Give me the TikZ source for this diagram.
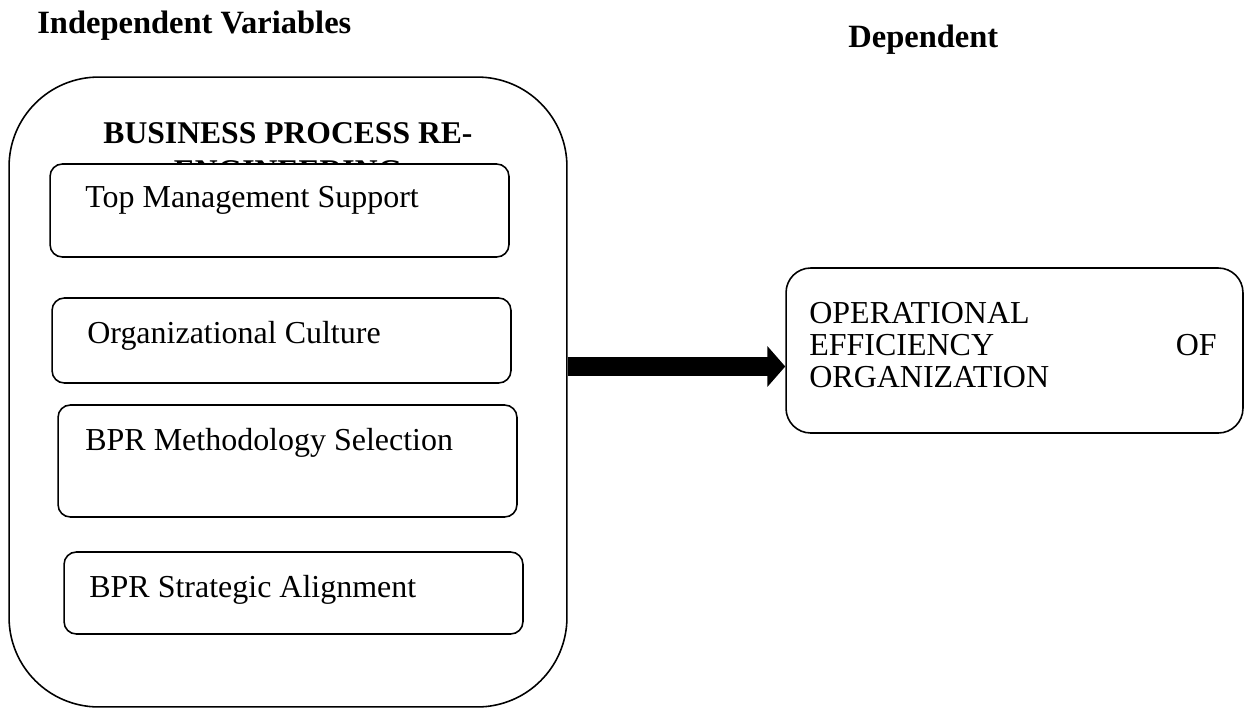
\documentclass[tikz,border=0pt]{standalone}
\usepackage{fontspec}
\setmainfont{Liberation Serif}
\usetikzlibrary{arrows.meta}

\begin{document}
\begin{tikzpicture}[x=0.02cm, y=-0.02cm,
    every node/.style={inner sep=0pt},
    rbox/.style={draw, line width=0.9pt, fill=white, rounded corners=7pt},
    factor/.style={rbox, minimum width=9.18cm},
    txt/.style={anchor=base west, font=\fontsize{18.2}{21}\selectfont},
    heading/.style={anchor=base west, font=\fontsize{18.5}{22}\selectfont\bfseries},
    fatarrow/.style={line width=10.8pt, -{Triangle[length=10.2pt, width=22.7pt]}}]
  \useasboundingbox (0,0) rectangle (1244,708);
  % headings
  \node[heading] (indep) at (37,33) {Independent Variables};
  \node[heading] (dep) at (848,47) {Dependent};
  % independent side
  \node[rbox, rounded corners=51pt, minimum width=11.16cm, minimum height=12.6cm] (bpr) at (288,392) {};
  \node[anchor=base, font=\fontsize{18}{21}\selectfont\bfseries] (bprtitle) at (288,143) {BUSINESS PROCESS RE-};
  \node[anchor=base, font=\fontsize{18}{21}\selectfont\bfseries] (bprtitlenext) at (288,181.5) {ENGINEERING};
  \node[factor, minimum height=1.86cm] (topbox) at (279.5,210.5) {};
  \node[factor, minimum height=1.70cm] (culturebox) at (281.5,340.5) {};
  \node[factor, minimum height=2.24cm] (methodbox) at (287.5,461) {};
  \node[factor, minimum height=1.64cm] (strategybox) at (293.5,593) {};
  \node[txt] (toptext) at (85,207) {Top Management Support};
  \node[txt] (culturetext) at (87,343) {Organizational Culture};
  \node[txt] (methodtext) at (85,450) {BPR Methodology Selection};
  \node[txt] (strategytext) at (89,597) {BPR Strategic Alignment};
  % dependent side
  \node[rbox, rounded corners=14pt, minimum width=9.14cm, minimum height=3.3cm] (effbox) at (1014.5,350.5) {};
  \node[txt] (opline) at (809,323) {OPERATIONAL};
  \node[txt] (effline) at (809,355) {EFFICIENCY};
  \node[txt, anchor=base east] (ofword) at (1217,355) {OF};
  \node[txt] (orgline) at (809,387) {ORGANIZATION};
  \coordinate (mid) at (0,366.5);
  \draw[fatarrow] (bpr.east |- mid) -- (effbox.west |- mid);
\end{tikzpicture}
\end{document}
